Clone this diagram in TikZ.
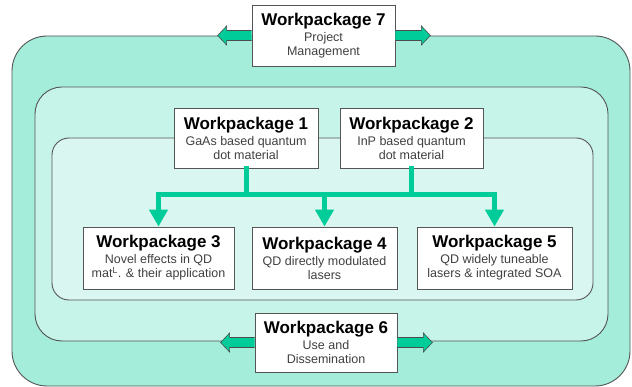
\documentclass[tikz,border=0pt]{standalone}
\usepackage{fontspec}
\setmainfont{Liberation Sans}
\usetikzlibrary{arrows.meta}
\definecolor{wpgreen}{RGB}{0,204,153}
\definecolor{wpline}{RGB}{85,85,85}
\newcommand{\wptitle}[1]{{\color{black}\fontsize{17}{17}\selectfont\bfseries #1}\\[2pt]}

\begin{document}
\begin{tikzpicture}[x=1pt,y=-1pt,
  wpbox/.style={draw=wpline,fill=white,line width=0.8pt,align=center,inner sep=2pt,
    minimum height=61pt,font=\fontsize{12.5}{14}\selectfont,text=black!75},
  zone/.style={draw=wpline,line width=0.9pt},
  flow/.style={draw=wpgreen,line width=5pt,line cap=rect},
  blockarr/.style={fill=wpgreen,draw=black!70,line width=0.6pt}]
 \useasboundingbox (0,0) rectangle (632,387);
 % nested zones
 \draw[zone,fill=wpgreen!36,rounded corners=35pt] (12,36) rectangle (630,386);
 \draw[zone,fill=wpgreen!22,rounded corners=27pt] (35,87) rectangle (608,341);
 \draw[zone,fill=wpgreen!15,rounded corners=17pt] (52,138) rectangle (593,300);
 % workpackages
 \node[wpbox,minimum width=143pt] (wp7) at (323.5,35.5) {\wptitle{Workpackage 7}Project\\Management};
 \node[wpbox,minimum width=144pt,minimum height=60pt] (wp1) at (246,138) {\wptitle{Workpackage 1}GaAs based quantum\\dot material};
 \node[wpbox,minimum width=143pt,minimum height=60pt] (wp2) at (411.5,138) {\wptitle{Workpackage 2}InP based quantum\\dot material};
 \node[wpbox,minimum width=151pt,minimum height=62pt] (wp3) at (158.5,258) {\wptitle{Workpackage 3}Novel effects in QD\\mat\textsuperscript{L}. \& their application};
 \node[wpbox,minimum width=145pt,minimum height=62pt] (wp4) at (324.5,258) {\wptitle{Workpackage 4}QD directly modulated\\lasers};
 \node[wpbox,minimum width=155pt,minimum height=62pt] (wp5) at (494.5,258) {\wptitle{Workpackage 5}QD widely tuneable\\lasers \& integrated SOA};
 \node[wpbox,minimum width=142pt,minimum height=59pt] (wp6) at (326,342.5) {\wptitle{Workpackage 6}Use and\\Dissemination};
 % flows
 \coordinate (bar) at (0,195);
 \draw[flow] (wp3.north |- bar) -- (wp5.north |- bar);
 \draw[flow] (wp1.south) -- (wp1.south |- bar);
 \draw[flow] (wp2.south) -- (wp2.south |- bar);
 \foreach \n in {wp3,wp4,wp5}
   \draw[flow,-{Triangle[length=17pt,width=18pt]}] (\n.north |- bar) -- (\n.north);
 % block arrows
 \foreach \n in {wp7,wp6} {
   \draw[blockarr] (\n.west) ++(0,-5) -- ++(-25,0) -- ++(0,-4.5) -- ++(-9,9.5) -- ++(9,9.5) -- ++(0,-4.5) -- ++(25,0);
   \draw[blockarr] (\n.east) ++(0,-5) -- ++(26,0) -- ++(0,-4.5) -- ++(9,9.5) -- ++(-9,9.5) -- ++(0,-4.5) -- ++(-26,0);
 }
\end{tikzpicture}
\end{document}
